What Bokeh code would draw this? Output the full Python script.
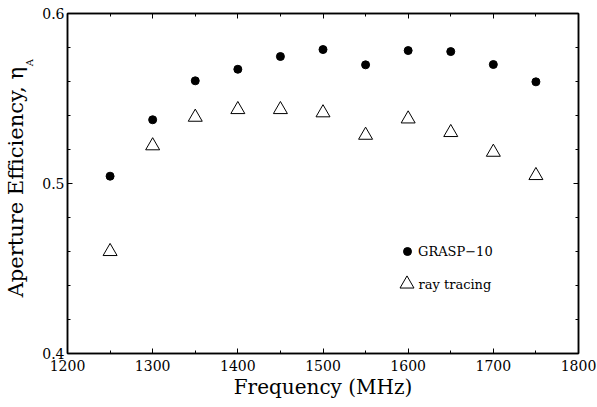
from bokeh.plotting import figure
from bokeh.layouts import row
from bokeh.models import (LinearAxis, Range1d, FixedTicker, Legend, LegendItem, Label,
                          CustomJSTickFormatter)
from bokeh.core.properties import value
from bokeh.embed import file_html
from bokeh.resources import INLINE
import math

freq = [1250, 1300, 1350, 1400, 1450, 1500, 1550, 1600, 1650, 1700, 1750]
grasp = [0.5043, 0.5375, 0.5604, 0.5672, 0.5747, 0.5788, 0.5698, 0.5782, 0.5776, 0.5700, 0.5598]
ray = [0.4600, 0.5222, 0.5390, 0.5435, 0.5435, 0.5416, 0.5284, 0.5380, 0.5300, 0.5184, 0.5047]
x_major = [1200, 1300, 1400, 1500, 1600, 1700, 1800]
x_minor = [1250, 1350, 1450, 1550, 1650, 1750]
y_major = [0.4, 0.5, 0.6]
y_minor = [0.42, 0.44, 0.46, 0.48, 0.52, 0.54, 0.56, 0.58]
y_title = "Aperture Efficiency, η"
y_title_sub = "A"

FONT = "DejaVu Serif"
W_LEFT = 38
H = 407

# ---- narrow strip holding the y-axis title (η with subscript A) ----
q = figure(width=W_LEFT, height=H, output_backend="svg", toolbar_location=None,
           x_range=Range1d(0, W_LEFT), y_range=Range1d(0, H),
           x_axis_location=None, y_axis_location=None,
           min_border_left=0, min_border_right=0, min_border_top=0, min_border_bottom=0)
q.outline_line_color = None
q.grid.visible = False
q.background_fill_color = "white"
q.border_fill_color = "white"
q.text(x=[15], y=[H - 64], text=[y_title], angle=math.pi / 2,
       text_font=value(FONT), text_font_size="21px", text_color="black",
       text_align="right", text_baseline="alphabetic")
q.text(x=[29], y=[H - 63], text=[y_title_sub], angle=math.pi / 2,
       text_font=value(FONT), text_font_size="10px", text_color="black",
       text_align="left", text_baseline="alphabetic")

# ---- main plot ----
p = figure(width=597 - W_LEFT, height=H, output_backend="svg", toolbar_location=None,
           x_range=Range1d(1200, 1800), y_range=Range1d(0.4, 0.6),
           x_axis_location=None, y_axis_location=None,
           min_border_left=67 - W_LEFT, min_border_right=19, min_border_top=13, min_border_bottom=54)
p.background_fill_color = "white"
p.border_fill_color = "white"
p.outline_line_color = "black"
p.outline_line_width = 1.5
p.grid.visible = False

def style(ax, labels=True):
    ax.axis_line_color = "black"
    ax.axis_line_width = 1.5
    ax.major_tick_in = 5
    ax.major_tick_out = 0
    ax.minor_tick_in = 3
    ax.minor_tick_out = 0
    ax.major_tick_line_color = "black"
    ax.minor_tick_line_color = "black"
    ax.major_label_text_font = FONT
    ax.major_label_text_font_size = "14px"
    ax.major_label_text_color = "black"
    ax.axis_label_text_font = FONT
    ax.axis_label_text_font_style = "normal"
    ax.axis_label_text_font_size = "20px"
    ax.axis_label_text_color = "black"
    if not labels:
        ax.formatter = CustomJSTickFormatter(code="return ''")
        ax.major_label_standoff = 0

bx = LinearAxis(ticker=FixedTicker(ticks=x_major, minor_ticks=x_minor), axis_label="Frequency (MHz)")
style(bx)
bx.major_label_standoff = 6
bx.axis_label_standoff = 1
p.add_layout(bx, "below")

lx = LinearAxis(ticker=FixedTicker(ticks=y_major, minor_ticks=y_minor))
style(lx)
lx.major_label_standoff = 3
p.add_layout(lx, "left")

tx = LinearAxis(ticker=FixedTicker(ticks=x_major, minor_ticks=x_minor))
style(tx, labels=False)
p.add_layout(tx, "above")

rx = LinearAxis(ticker=FixedTicker(ticks=y_major, minor_ticks=y_minor))
style(rx, labels=False)
p.add_layout(rx, "right")

r1 = p.scatter(freq, grasp, marker="circle", size=8, fill_color="black", line_color="black")
r2 = p.scatter(freq, ray, marker="triangle", size=14, fill_color="white", line_color="black", line_width=1)

def legend_style(leg):
    leg.background_fill_alpha = 0
    leg.border_line_alpha = 0
    leg.padding = 0
    leg.margin = 0
    leg.label_text_font = FONT
    leg.label_text_font_size = "13px"
    leg.label_text_color = "black"

leg1 = Legend(items=[LegendItem(label="GRASP\u221210", renderers=[r1])], location=(330, 92))
legend_style(leg1)
leg1.glyph_width = 20
leg1.glyph_height = 20
leg1.label_height = 20
leg1.label_standoff = 1
p.add_layout(leg1, "center")

leg2 = Legend(items=[LegendItem(label="", renderers=[r2])], location=(322, 52))
legend_style(leg2)
leg2.glyph_width = 35
leg2.glyph_height = 35
leg2.label_height = 20
leg2.label_standoff = 0
p.add_layout(leg2, "center")

ray_text = Label(x=351, y=69, x_units="screen", y_units="screen", text="ray tracing",
                 text_font=FONT, text_font_size="13px", text_color="black",
                 text_align="left", text_baseline="middle")
p.add_layout(ray_text)

layout = row(q, p, spacing=0)
open("out.html", "w").write(file_html(layout, INLINE))
